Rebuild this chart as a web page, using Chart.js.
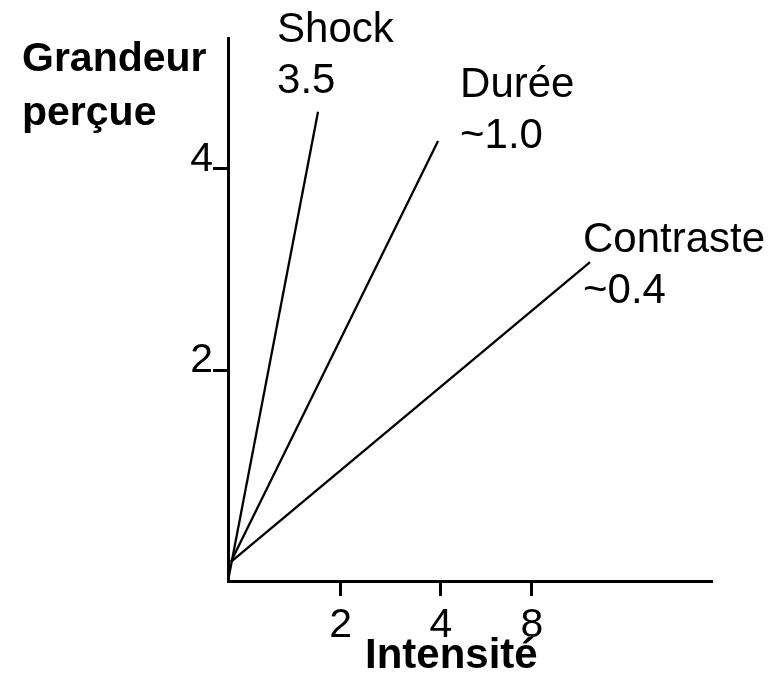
<!DOCTYPE html>
<html>
<head>
<meta charset="utf-8">
<script src="https://cdn.jsdelivr.net/npm/chart.js@4.4.1/dist/chart.umd.min.js"></script>
<style>
    html, body { margin: 0; padding: 0; background: #fff; }
    #wrap { width: 778px; height: 681px; }
</style>
</head>
<body>
<div id="wrap"><canvas id="powerChart"></canvas></div>
<script>
// Lois de puissance (Stevens) : une droite par modalité
const seriesNames = ['Shock', 'Durée', 'Contraste'];
const seriesExponents = ['3.5', '~1.0', '~0.4'];

const shockX = [0, 1.86];
const shockY = [-0.09, 4.56];
const dureeX = [0.06, 4.34];
const dureeY = [0.10, 4.27];
const contrasteX = [0.06, 7.48];
const contrasteY = [0.10, 3.07];

const xTickValues = [2.33, 4.40, 6.28];
const xTickLabels = ['2', '4', '8'];
const yTickValues = [2, 4];
const yTickLabels = ['2', '4'];

const xTitle = 'Intensité';
const yTitle = ['Grandeur', 'perçue'];

const FONT = '"Liberation Sans", Arial, Helvetica, sans-serif';

function toPoints(xs, ys) {
    return xs.map((x, i) => ({ x: x, y: ys[i] }));
}

// textes libres : titres d'axes et étiquettes des droites
const labelOffsets = [[-41, -70], [22, -44], [-7, -10]];
const textPlugin = {
    id: 'freeText',
    afterDraw(chart) {
        const ctx = chart.ctx;
        ctx.save();
        ctx.fillStyle = '#000';
        ctx.textAlign = 'left';
        ctx.textBaseline = 'alphabetic';

        ctx.font = 'bold 41px ' + FONT;
        ctx.fillText(yTitle[0], 22, 71);
        ctx.fillText(yTitle[1], 22, 125);
        ctx.font = 'bold 42px ' + FONT;
        ctx.fillText(xTitle, 365, 668);

        ctx.font = '42px ' + FONT;
        chart.data.datasets.forEach((ds, i) => {
            const meta = chart.getDatasetMeta(i);
            const end = meta.data[meta.data.length - 1];
            const x = end.x + labelOffsets[i][0];
            const y = end.y + labelOffsets[i][1];
            ctx.fillText(seriesNames[i], x, y);
            ctx.fillText(seriesExponents[i], x, y + 51);
        });
        ctx.restore();
    }
};

document.addEventListener("DOMContentLoaded", function () {
    const ctx = document.getElementById('powerChart').getContext('2d');

    const lineStyle = {
        borderColor: '#000',
        backgroundColor: '#000',
        borderWidth: 2.3,
        showLine: true,
        pointRadius: 0,
        tension: 0,
        fill: false
    };

    new Chart(ctx, {
        type: 'scatter',
        data: {
            datasets: [
                Object.assign({ label: seriesNames[0], data: toPoints(shockX, shockY) }, lineStyle),
                Object.assign({ label: seriesNames[1], data: toPoints(dureeX, dureeY) }, lineStyle),
                Object.assign({ label: seriesNames[2], data: toPoints(contrasteX, contrasteY) }, lineStyle)
            ]
        },
        options: {
            responsive: true,
            maintainAspectRatio: false,
            animation: false,
            layout: { padding: { left: 0, right: 66, top: 38, bottom: 0 } },
            plugins: {
                legend: { display: false },
                tooltip: { enabled: false }
            },
            scales: {
                x: {
                    type: 'linear',
                    min: 0,
                    max: 10,
                    afterBuildTicks: s => { s.ticks = xTickValues.map(v => ({ value: v })); },
                    afterFit: s => { s.height = 100; },
                    border: { color: '#000', width: 3 },
                    grid: { drawOnChartArea: false, tickLength: 15, tickWidth: 3, tickColor: '#000' },
                    ticks: {
                        color: '#000',
                        font: { family: FONT, size: 41 },
                        padding: 5,
                        autoSkip: false,
                        maxRotation: 0,
                        callback: (v, i) => xTickLabels[i]
                    }
                },
                y: {
                    type: 'linear',
                    min: -0.09,
                    max: 5.29,
                    afterBuildTicks: s => { s.ticks = yTickValues.map(v => ({ value: v })); },
                    afterFit: s => { s.width = 228; },
                    border: { color: '#000', width: 3 },
                    grid: { drawOnChartArea: false, tickLength: 15, tickWidth: 3, tickColor: '#000' },
                    ticks: {
                        color: '#000',
                        font: { family: FONT, size: 41 },
                        padding: 0,
                        labelOffset: -9,
                        callback: (v, i) => yTickLabels[i]
                    }
                }
            }
        },
        plugins: [textPlugin]
    });
});
</script>
</body>
</html>
